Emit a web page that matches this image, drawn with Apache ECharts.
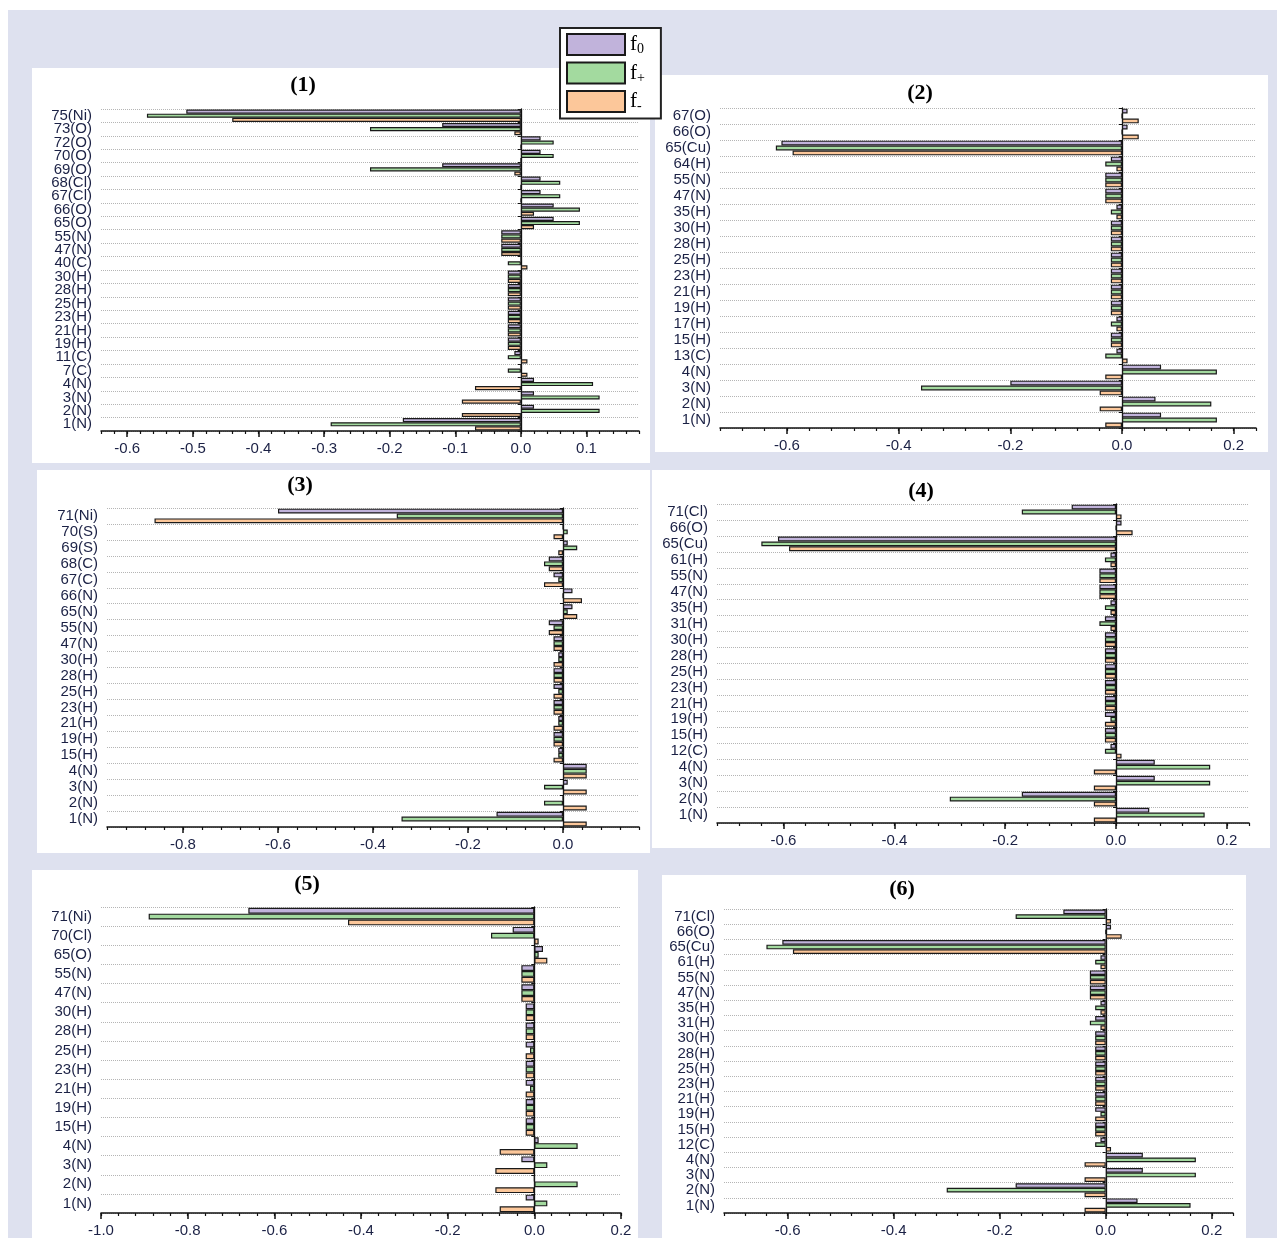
<!DOCTYPE html>
<html>
<head>
<meta charset="utf-8">
<script src="https://cdn.jsdelivr.net/npm/echarts@6/dist/echarts.min.js"></script>
<style>
  html, body { margin: 0; padding: 0; background: #fff; }
  #chart { width: 1277px; height: 1238px; }
</style>
</head>
<body>
<div id="chart"></div>
<script>
// panel (1)
var p1Cats = ['75(Ni)', '73(O)', '72(O)', '70(O)', '69(O)', '68(Cl)', '67(Cl)', '66(O)', '65(O)', '55(N)', '47(N)', '40(C)',
  '30(H)', '28(H)', '25(H)', '23(H)', '21(H)', '19(H)', '11(C)', '7(C)', '4(N)', '3(N)', '2(N)', '1(N)'];
var p1F0 = [-0.51, -0.12, 0.03, 0.03, -0.12, 0.03, 0.03, 0.05, 0.05, -0.03, -0.03, 0, -0.02, -0.02, -0.02, -0.02, -0.02, -0.02, -0.01, 0, 0.02, 0.02, 0.02, -0.18];
var p1Fp = [-0.57, -0.23, 0.05, 0.05, -0.23, 0.06, 0.06, 0.09, 0.09, -0.03, -0.03, -0.02, -0.02, -0.02, -0.02, -0.02, -0.02, -0.02, -0.02, -0.02, 0.11, 0.12, 0.12, -0.29];
var p1Fm = [-0.44, -0.01, 0, 0, -0.01, 0, 0, 0.02, 0.02, -0.03, -0.03, 0.01, -0.02, -0.02, -0.02, -0.02, -0.02, -0.02, 0.01, 0.01, -0.07, -0.09, -0.09, -0.07];
var p1Ticks = [-0.6, -0.5, -0.4, -0.3, -0.2, -0.1, 0, 0.1];

// panel (2)
var p2Cats = ['67(O)', '66(O)', '65(Cu)', '64(H)', '55(N)', '47(N)', '35(H)', '30(H)', '28(H)', '25(H)', '23(H)', '21(H)',
  '19(H)', '17(H)', '15(H)', '13(C)', '4(N)', '3(N)', '2(N)', '1(N)'];
var p2F0 = [0.01, 0.01, -0.61, -0.02, -0.03, -0.03, -0.01, -0.02, -0.02, -0.02, -0.02, -0.02, -0.02, -0.01, -0.02, -0.01, 0.07, -0.20, 0.06, 0.07];
var p2Fp = [0, 0, -0.62, -0.03, -0.03, -0.03, -0.02, -0.02, -0.02, -0.02, -0.02, -0.02, -0.02, -0.02, -0.02, -0.03, 0.17, -0.36, 0.16, 0.17];
var p2Fm = [0.03, 0.03, -0.59, -0.01, -0.03, -0.03, -0.01, -0.02, -0.02, -0.02, -0.02, -0.02, -0.02, -0.01, -0.02, 0.01, -0.03, -0.04, -0.04, -0.03];
var p2Ticks = [-0.6, -0.4, -0.2, 0, 0.2];

// panel (3)
var p3Cats = ['71(Ni)', '70(S)', '69(S)', '68(C)', '67(C)', '66(N)', '65(N)', '55(N)', '47(N)', '30(H)', '28(H)', '25(H)',
  '23(H)', '21(H)', '19(H)', '15(H)', '4(N)', '3(N)', '2(N)', '1(N)'];
var p3F0 = [-0.60, 0, 0.01, -0.03, -0.02, 0.02, 0.02, -0.03, -0.02, -0.01, -0.02, -0.02, -0.02, -0.01, -0.02, -0.01, 0.05, 0.01, 0, -0.14];
var p3Fp = [-0.35, 0.01, 0.03, -0.04, -0.01, 0, 0.01, -0.02, -0.02, -0.01, -0.02, -0.01, -0.02, -0.01, -0.02, -0.01, 0.05, -0.04, -0.04, -0.34];
var p3Fm = [-0.86, -0.02, -0.01, -0.03, -0.04, 0.04, 0.03, -0.03, -0.02, -0.02, -0.02, -0.02, -0.02, -0.02, -0.02, -0.02, 0.05, 0.05, 0.05, 0.05];
var p3Ticks = [-0.8, -0.6, -0.4, -0.2, 0];

// panel (4)
var p4Cats = ['71(Cl)', '66(O)', '65(Cu)', '61(H)', '55(N)', '47(N)', '35(H)', '31(H)', '30(H)', '28(H)', '25(H)', '23(H)',
  '21(H)', '19(H)', '15(H)', '12(C)', '4(N)', '3(N)', '2(N)', '1(N)'];
var p4F0 = [-0.08, 0.01, -0.61, -0.01, -0.03, -0.03, -0.01, -0.02, -0.02, -0.02, -0.02, -0.02, -0.02, -0.02, -0.02, -0.01, 0.07, 0.07, -0.17, 0.06];
var p4Fp = [-0.17, 0, -0.64, -0.02, -0.03, -0.03, -0.02, -0.03, -0.02, -0.02, -0.02, -0.02, -0.02, -0.01, -0.02, -0.02, 0.17, 0.17, -0.30, 0.16];
var p4Fm = [0.01, 0.03, -0.59, -0.01, -0.03, -0.03, -0.01, -0.01, -0.02, -0.02, -0.02, -0.02, -0.02, -0.02, -0.02, 0.01, -0.04, -0.04, -0.04, -0.04];
var p4Ticks = [-0.6, -0.4, -0.2, 0, 0.2];

// panel (5)
var p5Cats = ['71(Ni)', '70(Cl)', '65(O)', '55(N)', '47(N)', '30(H)', '28(H)', '25(H)', '23(H)', '21(H)', '19(H)', '15(H)',
  '4(N)', '3(N)', '2(N)', '1(N)'];
var p5F0 = [-0.66, -0.05, 0.02, -0.03, -0.03, -0.02, -0.02, -0.02, -0.02, -0.02, -0.02, -0.02, 0.01, -0.03, 0, -0.02];
var p5Fp = [-0.89, -0.10, 0.01, -0.03, -0.03, -0.02, -0.02, -0.01, -0.02, -0.01, -0.02, -0.02, 0.10, 0.03, 0.10, 0.03];
var p5Fm = [-0.43, 0.01, 0.03, -0.03, -0.03, -0.02, -0.02, -0.02, -0.02, -0.02, -0.02, -0.02, -0.08, -0.09, -0.09, -0.08];
var p5Ticks = [-1.0, -0.8, -0.6, -0.4, -0.2, 0, 0.2];

// panel (6)
var p6Cats = ['71(Cl)', '66(O)', '65(Cu)', '61(H)', '55(N)', '47(N)', '35(H)', '31(H)', '30(H)', '28(H)', '25(H)', '23(H)',
  '21(H)', '19(H)', '15(H)', '12(C)', '4(N)', '3(N)', '2(N)', '1(N)'];
var p6F0 = [-0.08, 0.01, -0.61, -0.01, -0.03, -0.03, -0.01, -0.02, -0.02, -0.02, -0.02, -0.02, -0.02, -0.02, -0.02, -0.01, 0.07, 0.07, -0.17, 0.06];
var p6Fp = [-0.17, 0, -0.64, -0.02, -0.03, -0.03, -0.02, -0.03, -0.02, -0.02, -0.02, -0.02, -0.02, -0.01, -0.02, -0.02, 0.17, 0.17, -0.30, 0.16];
var p6Fm = [0.01, 0.03, -0.59, -0.01, -0.03, -0.03, -0.01, -0.01, -0.02, -0.02, -0.02, -0.02, -0.02, -0.02, -0.02, 0.01, -0.04, -0.04, -0.04, -0.04];
var p6Ticks = [-0.6, -0.4, -0.2, 0, 0.2];

var seriesNames = ['f0', 'f+', 'f-'];
var colors = ['#c1b3db', '#a3da9f', '#fcc79a'];
var textColor = '#1b2145';
var sansFont = '"Liberation Sans", Arial, sans-serif';

// layout of each panel (plot area, white box, title)
var panels = [
  { cats: p1Cats, vals: [p1F0, p1Fp, p1Fm], ticks: p1Ticks, min: -0.64, max: 0.18, step: 0.02,
    grid: { left: 101, top: 109, width: 538, height: 322 }, box: [32, 68, 618, 395], title: '(1)', tx: 303, ty: 85 },
  { cats: p2Cats, vals: [p2F0, p2Fp, p2Fm], ticks: p2Ticks, min: -0.72, max: 0.24, step: 0.04,
    grid: { left: 720, top: 108, width: 536, height: 320 }, box: [655, 75, 613, 377], title: '(2)', tx: 920, ty: 93 },
  { cats: p3Cats, vals: [p3F0, p3Fp, p3Fm], ticks: p3Ticks, min: -0.96, max: 0.16, step: 0.04,
    grid: { left: 107, top: 508, width: 532, height: 319 }, box: [37, 470, 613, 383], title: '(3)', tx: 300, ty: 485 },
  { cats: p4Cats, vals: [p4F0, p4Fp, p4Fm], ticks: p4Ticks, min: -0.72, max: 0.24, step: 0.04,
    grid: { left: 717, top: 504, width: 532, height: 319 }, box: [652, 470, 618, 378], title: '(4)', tx: 921, ty: 491 },
  { cats: p5Cats, vals: [p5F0, p5Fp, p5Fm], ticks: p5Ticks, min: -1.0, max: 0.2, step: 0.04,
    grid: { left: 101, top: 907, width: 520, height: 310 }, box: [32, 870, 606, 368], title: '(5)', tx: 307, ty: 884 },
  { cats: p6Cats, vals: [p6F0, p6Fp, p6Fm], ticks: p6Ticks, min: -0.72, max: 0.24, step: 0.04,
    grid: { left: 724, top: 909, width: 509, height: 304 }, box: [662, 875, 584, 363], title: '(6)', tx: 902, ty: 889 }
];

var grids = [], xAxes = [], yAxes = [], series = [];
var graphics = [
  { type: 'rect', z: -10, shape: { x: 8, y: 10, width: 1269, height: 1228 }, style: { fill: '#dee1ef' } }
];

panels.forEach(function (p, i) {
  grids.push(p.grid);
  graphics.push({ type: 'rect', z: -9, shape: { x: p.box[0], y: p.box[1], width: p.box[2], height: p.box[3] }, style: { fill: '#fff' } });
  graphics.push({
    type: 'text', z: 10, x: p.tx, y: p.ty,
    style: { text: p.title, font: 'bold 22px "Liberation Serif", serif', fill: '#000',
      align: 'center', textAlign: 'center', verticalAlign: 'middle', textVerticalAlign: 'middle' }
  });

  // value axis with minor ticks and the labels
  xAxes.push({
    gridIndex: i, type: 'value', position: 'bottom', min: p.min, max: p.max, interval: p.step,
    axisLine: { show: true, onZero: false, lineStyle: { color: '#111', width: 1.5 } },
    axisTick: { show: true, length: 3, lineStyle: { color: '#111', width: 1.2 } },
    axisLabel: {
      customValues: p.ticks, color: textColor, fontSize: 15, margin: 10, fontFamily: sansFont,
      formatter: function (v) { return Math.abs(v) < 1e-9 ? '0.0' : v.toFixed(1); }
    },
    splitLine: { show: false }
  });
  // second axis only for the longer major ticks
  xAxes.push({
    gridIndex: i, type: 'value', position: 'bottom', min: p.min, max: p.max, interval: p.step,
    axisLine: { show: false, onZero: false },
    axisTick: { show: true, customValues: p.ticks, length: 6, lineStyle: { color: '#111', width: 1.5 } },
    axisLabel: { show: false },
    splitLine: { show: false }
  });

  // category labels + dotted separators
  yAxes.push({
    gridIndex: i, type: 'category', data: p.cats, inverse: true, position: 'left',
    axisLine: { show: false, onZero: false },
    axisTick: { show: false },
    axisLabel: { interval: 0, color: textColor, fontSize: 15, margin: 9, fontFamily: sansFont },
    splitLine: { show: true, interval: 0, lineStyle: { type: 'dotted', color: '#b5b5b5', width: 1 } }
  });
  // zero line
  yAxes.push({
    gridIndex: i, type: 'category', data: p.cats, inverse: true, position: 'left',
    axisLine: { show: true, onZero: true, lineStyle: { color: '#111', width: 1.3 } },
    axisTick: { show: true, interval: 0, length: 3, lineStyle: { color: '#111' } },
    axisLabel: { show: false },
    splitLine: { show: false }
  });

  seriesNames.forEach(function (name, k) {
    series.push({
      name: name, type: 'bar', xAxisIndex: 2 * i, yAxisIndex: 2 * i,
      data: p.vals[k], barGap: '0%', barCategoryGap: '8%', silent: true,
      itemStyle: { color: colors[k], borderColor: '#1a1a1a', borderWidth: 1.2 }
    });
  });
});

var subs = { 'f0': '0', 'f+': '+', 'f-': '-' };

var chart = echarts.init(document.getElementById('chart'));
chart.setOption({
  animation: false,
  backgroundColor: '#fff',
  graphic: { elements: graphics },
  legend: {
    data: seriesNames, orient: 'vertical', left: 560, top: 28,
    itemWidth: 58, itemHeight: 21, itemGap: 5, padding: [5, 16, 5, 6],
    icon: 'rect', selectedMode: false,
    backgroundColor: '#fff', borderColor: '#222', borderWidth: 2,
    formatter: function (name) { return '{a|f}{b|' + subs[name] + '}'; },
    textStyle: {
      color: '#000',
      rich: {
        a: { fontSize: 21, fontFamily: '"Liberation Serif", serif' },
        b: { fontSize: 14, fontFamily: '"Liberation Serif", serif', padding: [10, 0, 0, 0] }
      }
    }
  },
  grid: grids,
  xAxis: xAxes,
  yAxis: yAxes,
  series: series
});
</script>
</body>
</html>
